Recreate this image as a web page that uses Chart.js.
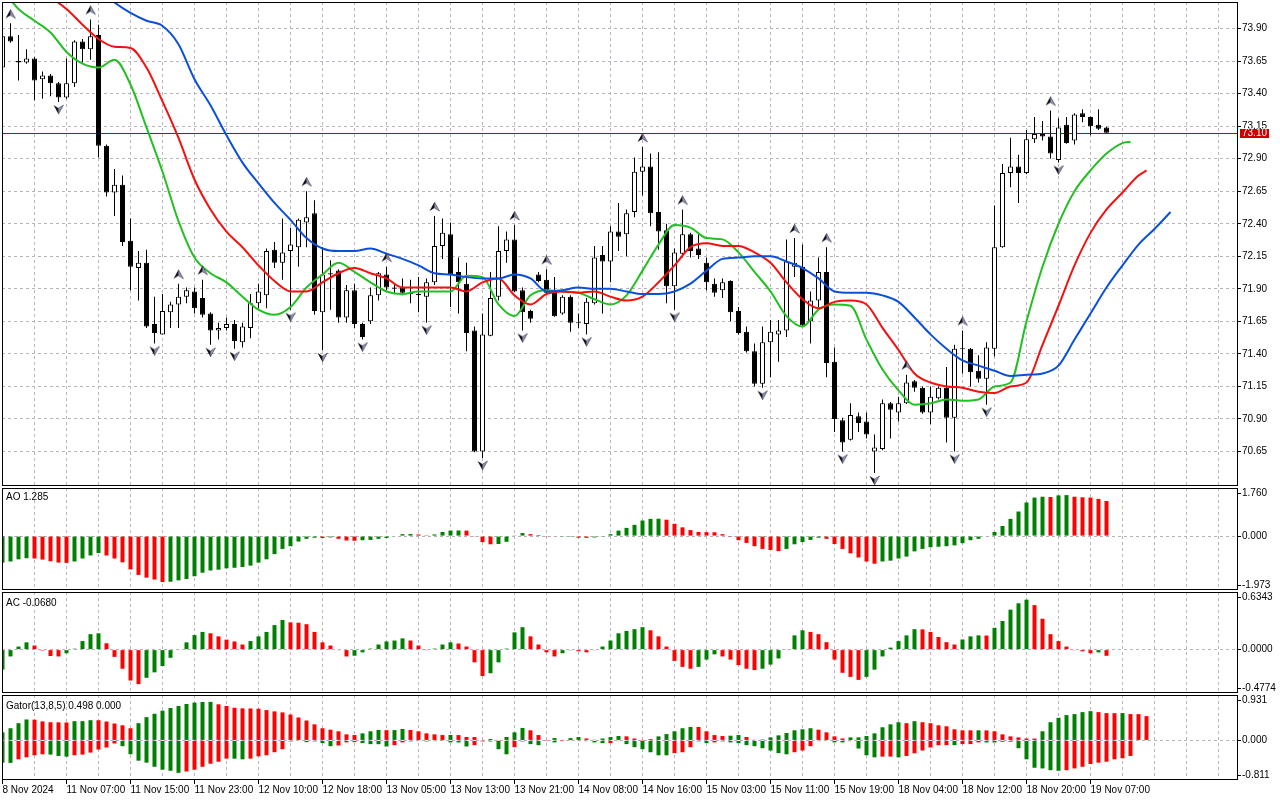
<!DOCTYPE html>
<html>
<head>
<meta charset="utf-8">
<title>Alligator / AO / AC / Gator</title>
<script src="https://cdn.jsdelivr.net/npm/chart.js@4.4.1/dist/chart.umd.min.js"></script>
<style>
  html, body { margin: 0; padding: 0; background: #fff; }
  #wrap { position: relative; width: 1280px; height: 800px; overflow: hidden; background: #fff; }
  #wrap canvas { position: absolute; left: 0; }
  .pane-title { position: absolute; left: 6px; font: 10px 'Liberation Sans', Arial, sans-serif; line-height: 12px; color: #000; white-space: nowrap; }
</style>
</head>
<body>
<div id="wrap">
  <canvas id="mainPane" width="1280" height="488" style="top:0"></canvas>
  <canvas id="aoPane" width="1280" height="102" style="top:488px"></canvas>
  <canvas id="acPane" width="1280" height="102" style="top:591px"></canvas>
  <canvas id="gatorPane" width="1280" height="106" style="top:694px"></canvas>
</div>
<script>
// H1 bars, 8 Nov 2024 .. 19 Nov 2024 07:00
const timeLabels = ['8 Nov 2024', '11 Nov 07:00', '11 Nov 15:00', '11 Nov 23:00', '12 Nov 10:00', '12 Nov 18:00',
  '13 Nov 05:00', '13 Nov 13:00', '13 Nov 21:00', '14 Nov 08:00', '14 Nov 16:00', '15 Nov 03:00',
  '15 Nov 11:00', '15 Nov 19:00', '18 Nov 04:00', '18 Nov 12:00', '18 Nov 20:00', '19 Nov 07:00'];

const priceTicks = [73.90, 73.65, 73.40, 73.15, 72.90, 72.65, 72.40, 72.15, 71.90, 71.65, 71.40, 71.15, 70.90, 70.65];

const opens = [
  73.60, 73.84, 73.64, 73.64, 73.67, 73.51, 73.54, 73.48, 73.37, 73.48,
  73.80, 73.74, 73.85, 73.00, 72.64, 72.70, 72.27, 72.06, 72.10, 71.63,
  71.55, 71.72, 71.78, 71.84, 71.88, 71.83, 71.71, 71.58, 71.60, 71.63,
  71.49, 71.60, 71.79, 71.85, 72.20, 72.10, 72.19, 72.22, 72.41, 72.48,
  71.72, 72.01, 72.04, 71.68, 71.89, 71.63, 71.65, 71.85, 72.01, 71.91,
  71.91, 71.865, 71.86, 71.84, 71.95, 72.23, 72.32, 72.03, 71.94, 71.58,
  70.65, 71.54, 71.84, 72.19, 72.28, 71.89, 71.73, 72.01, 71.97, 71.88,
  71.71, 71.84, 71.64, 71.63, 71.79, 72.16, 72.11, 72.34, 72.32, 72.49,
  72.80, 72.84, 72.49, 72.35, 71.92, 72.17, 72.32, 72.21, 72.10, 71.94,
  71.89, 71.96, 71.73, 71.57, 71.42, 71.17, 71.49, 71.55, 71.58, 72.07,
  72.07, 71.65, 71.81, 72.03, 71.34, 70.89, 70.74, 70.92, 70.88, 70.65,
  70.67, 71.02, 70.95, 71.02, 71.19, 71.14, 70.95, 71.06, 71.14, 70.91,
  71.44, 71.44, 71.27, 71.21, 71.44, 72.22, 72.79, 72.84, 72.79, 73.05,
  73.09, 73.07, 72.89, 73.16, 73.04, 73.25, 73.22, 73.16, 73.14];

const highs = [
  73.85, 73.94, 73.85, 73.74, 73.68, 73.57, 73.55, 73.49, 73.67, 73.81,
  73.82, 73.97, 73.93, 73.01, 72.82, 72.77, 72.44, 72.19, 72.20, 71.84,
  71.86, 71.80, 71.94, 71.91, 71.91, 71.97, 71.72, 71.64, 71.68, 71.66,
  71.64, 71.86, 71.94, 72.21, 72.26, 72.44, 72.37, 72.44, 72.65, 72.58,
  72.22, 72.12, 72.05, 71.93, 71.94, 71.64, 71.91, 72.03, 72.07, 71.94,
  71.98, 71.97, 71.99, 71.98, 72.46, 72.44, 72.41, 72.14, 72.10, 71.61,
  71.71, 72.03, 72.38, 72.34, 72.39, 71.91, 71.74, 72.03, 72.05, 71.99,
  71.85, 71.85, 71.71, 71.83, 72.23, 72.23, 72.38, 72.56, 72.51, 72.91,
  72.99, 72.94, 72.95, 72.40, 72.21, 72.51, 72.33, 72.33, 72.14, 71.98,
  71.98, 71.965, 71.76, 71.61, 71.48, 71.61, 71.66, 71.66, 72.28, 72.29,
  72.24, 71.88, 72.14, 72.22, 71.45, 70.91, 71.02, 70.95, 70.95, 70.78,
  71.05, 71.03, 71.07, 71.24, 71.20, 71.15, 71.15, 71.15, 71.30, 71.47,
  71.58, 71.445, 71.39, 71.49, 72.54, 72.86, 73.06, 72.93, 73.12, 73.22,
  73.19, 73.27, 73.21, 73.22, 73.25, 73.28, 73.225, 73.28, 73.145];

const lows = [
  73.59, 73.79, 73.50, 73.63, 73.35, 73.36, 73.38, 73.335, 73.36, 73.45,
  73.64, 73.66, 72.91, 72.61, 72.46, 72.23, 71.89, 71.81, 71.60, 71.48,
  71.55, 71.60, 71.60, 71.79, 71.71, 71.68, 71.47, 71.51, 71.58, 71.44,
  71.45, 71.52, 71.75, 71.75, 72.06, 71.97, 71.74, 72.07, 72.22, 71.70,
  71.43, 71.74, 71.64, 71.64, 71.60, 71.51, 71.63, 71.81, 71.89, 71.87,
  71.85, 71.79, 71.72, 71.64, 71.93, 72.13, 71.76, 71.71, 71.42, 70.645,
  70.60, 71.535, 71.81, 72.10, 71.875, 71.58, 71.64, 71.95, 71.85, 71.685,
  71.70, 71.57, 71.60, 71.55, 71.78, 71.71, 71.95, 72.19, 72.15, 72.45,
  72.62, 72.38, 72.20, 71.79, 71.74, 72.14, 72.14, 72.13, 71.89, 71.84,
  71.83, 71.65, 71.55, 71.41, 71.15, 71.14, 71.22, 71.34, 71.53, 71.99,
  71.61, 71.48, 71.76, 71.22, 70.80, 70.65, 70.735, 70.80, 70.75, 70.485,
  70.66, 70.75, 70.88, 71.015, 71.11, 70.94, 70.86, 71.05, 70.72, 70.65,
  71.25, 71.15, 71.18, 71.01, 71.38, 72.215, 72.68, 72.56, 72.78, 73.02,
  73.04, 72.90, 72.87, 73.015, 73.01, 73.18, 73.08, 73.12, 73.10];

const closes = [
  73.84, 73.80, 73.65, 73.67, 73.50, 73.54, 73.48, 73.37, 73.48, 73.80,
  73.74, 73.84, 73.00, 72.64, 72.70, 72.26, 72.07, 72.10, 71.61, 71.56,
  71.73, 71.78, 71.84, 71.89, 71.75, 71.70, 71.58, 71.60, 71.63, 71.50,
  71.61, 71.79, 71.88, 72.19, 72.10, 72.18, 72.24, 72.43, 72.45, 71.73,
  72.01, 72.02, 71.68, 71.89, 71.63, 71.53, 71.85, 72.02, 71.91, 71.90,
  71.87, 71.86, 71.85, 71.95, 72.23, 72.33, 72.01, 71.95, 71.56, 70.65,
  71.55, 71.83, 72.19, 72.28, 71.88, 71.72, 71.67, 71.96, 71.87, 71.69,
  71.84, 71.64, 71.635, 71.80, 72.14, 72.11, 72.34, 72.30, 72.48, 72.80,
  72.84, 72.48, 72.34, 71.92, 72.18, 72.32, 72.19, 72.16, 71.95, 71.87,
  71.95, 71.72, 71.56, 71.42, 71.17, 71.49, 71.57, 71.58, 72.11, 72.10,
  71.62, 71.81, 72.03, 71.33, 70.90, 70.72, 70.93, 70.87, 70.78, 70.68,
  71.02, 70.97, 71.02, 71.18, 71.14, 70.95, 71.07, 71.14, 70.91, 71.44,
  71.435, 71.26, 71.21, 71.45, 72.22, 72.79, 72.84, 72.79, 73.05, 73.09,
  73.07, 72.94, 73.14, 73.02, 73.24, 73.22, 73.15, 73.13, 73.10];

// Alligator lines, [bar, price] (jaw shifted 8 bars, teeth 5, lips 3)
const jawLine = [[0, 74.66], [4, 74.50], [8, 74.35], [12, 74.20], [14, 74.10], [16, 74.02], [18, 73.96], [20, 73.92],
  [22, 73.78], [24, 73.51], [26, 73.31], [28, 73.08], [30, 72.87], [32, 72.71], [34, 72.56], [36, 72.43], [38, 72.29],
  [40, 72.21], [42, 72.19], [44, 72.19], [46, 72.21], [48, 72.17], [50, 72.13], [52, 72.08], [54, 72.02], [56, 72.01],
  [58, 71.99], [60, 71.98], [62, 71.98], [64, 72.01], [66, 71.98], [68, 71.88], [70, 71.89], [72, 71.91], [74, 71.90],
  [76, 71.90], [78, 71.88], [80, 71.86], [82, 71.86], [84, 71.88], [86, 71.94], [88, 72.04], [90, 72.13], [92, 72.14],
  [94, 72.15], [96, 72.15], [98, 72.11], [100, 72.06], [102, 71.98], [104, 71.88], [106, 71.87], [108, 71.87], [110, 71.85],
  [112, 71.80], [114, 71.68], [116, 71.55], [118, 71.44], [120, 71.35], [122, 71.31], [124, 71.27], [126, 71.23],
  [128, 71.24], [130, 71.25], [132, 71.31], [134, 71.51], [136, 71.71], [138, 71.91], [140, 72.08], [142, 72.24],
  [144, 72.36], [146, 72.49]];

const teethLine = [[0, 74.43], [2, 74.31], [4, 74.21], [6, 74.14], [8, 74.05], [10, 73.93], [12, 73.82], [14, 73.76],
  [16, 73.75], [18, 73.60], [20, 73.34], [22, 73.06], [24, 72.74], [26, 72.51], [28, 72.34], [30, 72.22], [32, 72.08],
  [34, 71.96], [36, 71.88], [38, 71.88], [40, 71.95], [42, 72.02], [44, 72.06], [46, 72.02], [48, 71.98], [50, 71.91],
  [52, 71.91], [54, 71.91], [56, 71.91], [58, 71.88], [60, 71.95], [62, 71.98], [64, 71.85], [66, 71.78], [68, 71.86],
  [70, 71.88], [72, 71.87], [74, 71.88], [76, 71.84], [78, 71.81], [80, 71.84], [82, 71.95], [84, 72.08], [86, 72.22],
  [88, 72.25], [90, 72.23], [92, 72.23], [94, 72.18], [96, 72.10], [98, 71.95], [100, 71.82], [102, 71.75], [104, 71.80],
  [106, 71.81], [108, 71.78], [110, 71.60], [112, 71.43], [114, 71.25], [116, 71.18], [118, 71.15], [120, 71.14],
  [122, 71.11], [124, 71.10], [126, 71.15], [128, 71.18], [130, 71.47], [132, 71.77], [134, 72.08], [136, 72.33],
  [138, 72.51], [140, 72.64], [142, 72.77], [143, 72.81]];

const lipsLine = [[0, 74.20], [2, 74.05], [4, 73.96], [6, 73.87], [8, 73.72], [10, 73.63], [12, 73.60], [14, 73.66],
  [16, 73.47], [18, 73.14], [20, 72.80], [22, 72.42], [24, 72.14], [26, 72.02], [28, 71.95], [30, 71.84], [32, 71.74],
  [34, 71.70], [36, 71.76], [38, 71.91], [40, 72.01], [42, 72.10], [44, 72.03], [46, 71.95], [48, 71.88], [50, 71.86],
  [52, 71.88], [54, 71.88], [56, 71.88], [58, 72.00], [60, 71.99], [62, 71.78], [64, 71.69], [66, 71.85], [68, 71.89],
  [70, 71.88], [72, 71.87], [74, 71.82], [76, 71.78], [78, 71.85], [80, 72.04], [82, 72.24], [84, 72.39], [86, 72.37],
  [88, 72.29], [90, 72.28], [92, 72.18], [94, 72.03], [96, 71.88], [98, 71.69], [100, 71.61], [102, 71.74], [104, 71.78],
  [106, 71.77], [108, 71.51], [110, 71.28], [112, 71.12], [114, 71.01], [116, 71.02], [118, 71.05], [120, 71.04],
  [122, 71.05], [124, 71.15], [126, 71.18], [128, 71.65], [130, 72.07], [132, 72.40], [134, 72.65], [136, 72.81],
  [138, 72.94], [140, 73.02], [141, 73.03]];

const upFractals = [1, 11, 22, 25, 38, 48, 54, 64, 68, 80, 85, 99, 103, 113, 120, 131];
const downFractals = [7, 19, 26, 29, 36, 40, 45, 53, 60, 65, 73, 84, 95, 105, 109, 119, 123, 132];

const aoValues = [
  -0.97, -0.93, -0.85, -0.81, -0.82, -0.86, -0.92, -0.97, -0.98, -0.93,
  -0.82, -0.71, -0.62, -0.71, -0.82, -0.96, -1.22, -1.42, -1.52, -1.59,
  -1.68, -1.67, -1.62, -1.57, -1.47, -1.34, -1.26, -1.23, -1.18, -1.16,
  -1.13, -1.08, -0.97, -0.85, -0.66, -0.47, -0.37, -0.20, -0.10, -0.06,
  -0.07, -0.05, -0.10, -0.16, -0.17, -0.15, -0.14, -0.10, -0.07, -0.02,
  0.07, 0.075, 0.06, 0.03, 0.06, 0.15, 0.20, 0.205, 0.20, -0.01,
  -0.22, -0.30, -0.29, -0.21, 0.01, 0.11, 0.07, 0.04, -0.01, -0.02,
  -0.01, -0.005, -0.06, -0.065, -0.05, -0.01, 0.07, 0.20, 0.30, 0.41,
  0.57, 0.63, 0.635, 0.60, 0.45, 0.32, 0.22, 0.15, 0.145, 0.14,
  0.07, -0.005, -0.15, -0.25, -0.37, -0.47, -0.51, -0.55, -0.47, -0.30,
  -0.22, -0.14, -0.06, -0.10, -0.29, -0.47, -0.63, -0.78, -0.93, -1.01,
  -0.93, -0.90, -0.82, -0.75, -0.56, -0.47, -0.41, -0.39, -0.37, -0.34,
  -0.26, -0.15, -0.10, -0.02, 0.15, 0.37, 0.63, 0.90, 1.23, 1.41,
  1.44, 1.43, 1.49, 1.50, 1.44, 1.42, 1.41, 1.36, 1.285];

const acValues = [
  -0.22, -0.075, 0.034, 0.08, 0.045, -0.01, -0.07, -0.075, -0.04, 0.01,
  0.094, 0.17, 0.18, 0.07, -0.08, -0.21, -0.34, -0.38, -0.31, -0.25,
  -0.18, -0.09, -0.005, 0.08, 0.16, 0.195, 0.18, 0.146, 0.11, 0.09,
  0.056, 0.094, 0.146, 0.195, 0.27, 0.326, 0.30, 0.296, 0.28, 0.195,
  0.08, 0.045, -0.004, -0.075, -0.067, -0.03, 0.011, 0.056, 0.09, 0.10,
  0.124, 0.10, 0.045, -0.002, 0.011, 0.056, 0.08, 0.067, 0.034, -0.14,
  -0.29, -0.26, -0.14, 0.011, 0.19, 0.247, 0.146, 0.056, -0.03, -0.075,
  -0.04, -0.008, -0.019, -0.03, -0.007, 0.034, 0.10, 0.18, 0.206, 0.225,
  0.247, 0.213, 0.146, 0.034, -0.124, -0.19, -0.21, -0.19, -0.11, -0.052,
  -0.075, -0.11, -0.17, -0.21, -0.225, -0.21, -0.165, -0.097, 0.007, 0.157,
  0.213, 0.195, 0.17, 0.082, -0.11, -0.255, -0.30, -0.333, -0.30, -0.22,
  -0.075, 0.022, 0.094, 0.157, 0.225, 0.223, 0.195, 0.139, 0.082, 0.056,
  0.112, 0.146, 0.157, 0.155, 0.24, 0.315, 0.44, 0.51, 0.55, 0.49,
  0.34, 0.17, 0.094, 0.034, -0.007, -0.019, -0.04, -0.03, -0.068];

const gatorUpper = [
  0.166, 0.25, 0.353, 0.43, 0.425, 0.39, 0.373, 0.37, 0.368, 0.394,
  0.395, 0.415, 0.414, 0.387, 0.346, 0.31, 0.25, 0.353, 0.477, 0.546,
  0.61, 0.664, 0.705, 0.747, 0.775, 0.788, 0.79, 0.74, 0.705, 0.67,
  0.657, 0.655, 0.65, 0.622, 0.595, 0.574, 0.53, 0.47, 0.408, 0.33,
  0.25, 0.22, 0.187, 0.124, 0.11, 0.145, 0.187, 0.214, 0.21, 0.212,
  0.235, 0.214, 0.187, 0.145, 0.124, 0.11, 0.112, 0.11, 0.07, 0.069,
  0.005, 0.03, 0.005, 0.07, 0.166, 0.256, 0.207, 0.11, 0.003, 0.048,
  0.002, 0.048, 0.069, 0.04, 0.014, 0.04, 0.069, 0.09, 0.083, 0.04,
  0.002, 0.028, 0.083, 0.13, 0.187, 0.25, 0.277, 0.276, 0.187, 0.11,
  0.09, 0.097, 0.11, 0.07, 0.014, 0.02, 0.062, 0.104, 0.152, 0.207,
  0.228, 0.25, 0.22, 0.166, 0.083, 0.04, 0.062, 0.063, 0.09, 0.145,
  0.27, 0.33, 0.373, 0.353, 0.394, 0.373, 0.353, 0.31, 0.29, 0.228,
  0.207, 0.206, 0.207, 0.205, 0.187, 0.124, 0.083, 0.062, 0.04, 0.039,
  0.187, 0.373, 0.463, 0.519, 0.54, 0.58, 0.60, 0.58, 0.56, 0.558,
  0.56, 0.54, 0.539, 0.498];

const gatorLower = [
  -0.456, -0.46, -0.387, -0.346, -0.304, -0.284, -0.29, -0.318, -0.332, -0.304,
  -0.29, -0.249, -0.187, -0.145, -0.062, -0.118, -0.284, -0.415, -0.456, -0.54,
  -0.60, -0.622, -0.664, -0.636, -0.60, -0.54, -0.477, -0.436, -0.373, -0.375,
  -0.387, -0.373, -0.325, -0.304, -0.242, -0.18, -0.02, -0.01, -0.035, -0.02,
  -0.055, -0.118, -0.104, -0.04, -0.035, -0.055, -0.076, -0.077, -0.124, -0.097,
  -0.04, -0.02, -0.014, -0.02, -0.014, -0.007, -0.04, -0.041, -0.124, -0.097,
  -0.02, -0.021, -0.18, -0.284, -0.138, -0.02, -0.076, -0.097, -0.014, -0.04,
  -0.014, -0.007, -0.014, -0.015, -0.04, -0.055, -0.054, -0.014, -0.076, -0.138,
  -0.18, -0.242, -0.304, -0.305, -0.26, -0.242, -0.138, -0.02, -0.055, -0.04,
  -0.02, -0.04, -0.055, -0.097, -0.118, -0.16, -0.207, -0.26, -0.284, -0.242,
  -0.207, -0.118, -0.014, -0.013, -0.04, -0.041, -0.014, -0.166, -0.304, -0.346,
  -0.332, -0.331, -0.346, -0.318, -0.263, -0.207, -0.145, -0.098, -0.097, -0.098,
  -0.076, -0.075, -0.04, -0.041, -0.042, -0.028, -0.027, -0.16, -0.387, -0.56,
  -0.574, -0.61, -0.622, -0.61, -0.574, -0.54, -0.484, -0.456, -0.436, -0.387,
  -0.366, -0.318];

// pane scale extremes and their labels, as printed on the right axis
const aoRange = [-1.973, 1.760];
const acRange = [-0.4774, 0.6343];
const gatorRange = [-0.811, 0.931];
const aoAxisLabels = ['1.760', '0.000', '-1.973'];
const acAxisLabels = ['0.6343', '0.0000', '-0.4774'];
const gatorAxisLabels = ['0.931', '0.000', '-0.811'];
const paneTitles = ['AO 1.285', 'AC -0.0680', 'Gator(13,8,5) 0.498 0.000'];

document.addEventListener('DOMContentLoaded', () => {
  const GRID = '#b9b3bf';
  const GREEN = '#008000';
  const RED = '#ff0000';
  const AXIS_W = 42;
  const X_MIN = -0.0625;              // bar 0 sits on pixel 2.5, 8 px per bar
  const X_MAX = X_MIN + 1236 / 8;

  Chart.defaults.font.family = "'Liberation Sans', Arial, sans-serif";
  Chart.defaults.font.size = 10;
  Chart.defaults.color = '#000';

  const wrap = document.getElementById('wrap');
  [491, 597, 700].forEach((top, i) => {
    const d = document.createElement('div');
    d.className = 'pane-title';
    d.style.top = top + 'px';
    d.textContent = paneTitles[i];
    wrap.appendChild(d);
  });

  // keep every pane's plot box exactly where the layout padding puts it
  const noScalePadding = s => { s.paddingTop = 0; s.paddingBottom = 0; s.paddingLeft = 0; s.paddingRight = 0; };
  const timeLabelAt = v => (v % 8 === 0 && timeLabels[v / 8]) ? timeLabels[v / 8] : '';

  function timeAxis(withLabels) {
    return {
      type: 'linear',
      min: X_MIN,
      max: X_MAX,
      offset: false,
      afterBuildTicks: s => {
        s.ticks = [];
        for (let b = 0; b < X_MAX; b += 4) s.ticks.push({ value: b });
      },
      afterFit: s => { s.height = withLabels ? 20 : 0; noScalePadding(s); },
      grid: {
        offset: false,
        color: GRID,
        drawTicks: withLabels,
        tickLength: 4,
        tickColor: c => (c.tick && timeLabelAt(c.tick.value)) ? '#000' : 'rgba(0,0,0,0)',
        tickBorderDash: []
      },
      border: { display: false, dash: [3, 3] },
      ticks: {
        display: withLabels,
        autoSkip: false,
        maxRotation: 0,
        align: 'start',
        padding: 0,
        callback: v => timeLabelAt(v)
      }
    };
  }

  // indicator panes: labels sit a few px inside the top and bottom edge
  function indicatorAxis(range, labels, paneHeight) {
    const [lo, hi] = range;
    const inset = (hi - lo) * 5 / paneHeight;
    return {
      position: 'right',
      min: lo,
      max: hi,
      beginAtZero: false,
      afterBuildTicks: s => { s.ticks = [{ value: hi - inset }, { value: 0 }, { value: lo + inset }]; },
      afterFit: s => { s.width = AXIS_W; noScalePadding(s); },
      grid: {
        color: c => (c.tick && c.tick.value === 0) ? GRID : 'rgba(0,0,0,0)',
        tickLength: 3,
        tickColor: '#000',
        tickBorderDash: []
      },
      border: { display: false, dash: [3, 3] },
      ticks: { autoSkip: false, padding: 1, callback: (v, i) => labels[i] }
    };
  }

  const priceAxis = {
    position: 'right',
    min: 70.385,
    max: 74.104,
    beginAtZero: false,
    afterBuildTicks: s => { s.ticks = priceTicks.map(v => ({ value: v })); },
    afterFit: s => { s.width = AXIS_W; noScalePadding(s); },
    grid: { color: GRID, tickLength: 3, tickColor: '#000', tickBorderDash: [] },
    border: { display: false, dash: [3, 3] },
    ticks: { autoSkip: false, padding: 1, callback: v => v.toFixed(2) }
  };

  const paneFrame = {
    id: 'paneFrame',
    afterDraw(chart) {
      const { ctx, chartArea: a } = chart;
      ctx.save();
      ctx.strokeStyle = '#000';
      ctx.lineWidth = 1;
      ctx.strokeRect(a.left + 0.5, a.top + 0.5, a.right - a.left - 1, a.bottom - a.top - 1);
      ctx.restore();
    }
  };

  // bid line and price tag for the last close
  const bidLine = {
    id: 'bidLine',
    beforeDatasetsDraw(chart) {
      const { ctx, chartArea: a } = chart;
      const y = Math.round(chart.scales.y.getPixelForValue(closes[closes.length - 1])) + 0.5;
      ctx.save();
      ctx.strokeStyle = '#c00000';
      ctx.lineWidth = 1;
      ctx.beginPath();
      ctx.moveTo(a.left, y);
      ctx.lineTo(a.right, y);
      ctx.stroke();
      ctx.restore();
    },
    afterDraw(chart) {
      const { ctx, chartArea: a } = chart;
      const last = closes[closes.length - 1];
      const y = Math.round(chart.scales.y.getPixelForValue(last));
      ctx.save();
      ctx.fillStyle = '#cc0000';
      ctx.fillRect(a.right + 2, y - 4, 29, 9);
      ctx.fillStyle = '#fff';
      ctx.font = Chart.defaults.font.size + 'px ' + Chart.defaults.font.family;
      ctx.textBaseline = 'middle';
      ctx.fillText(last.toFixed(2), a.right + 4, y + 0.5);
      ctx.restore();
    }
  };

  // two-tone arrowhead like the terminal's fractal marks
  function fractalArrow(up) {
    const c = document.createElement('canvas');
    c.width = 13;
    c.height = 36;
    const g = c.getContext('2d');
    g.translate(6.5, up ? 9 : 25);
    if (!up) g.scale(1, -1);
    g.beginPath();
    g.moveTo(0, -5);
    g.lineTo(0, 1);
    g.lineTo(-5, 4);
    g.closePath();
    g.fillStyle = '#111';
    g.fill();
    g.beginPath();
    g.moveTo(0, -5);
    g.lineTo(5, 4);
    g.lineTo(0, 1);
    g.closePath();
    g.fillStyle = '#8a90b8';
    g.fill();
    g.strokeStyle = 'rgba(40,40,60,0.6)';
    g.lineWidth = 0.8;
    g.stroke();
    return c;
  }

  function trendColors(values, useAbs) {
    let up = true;
    return values.map((v, i) => {
      if (i > 0) {
        const a = useAbs ? Math.abs(v) : v;
        const b = useAbs ? Math.abs(values[i - 1]) : values[i - 1];
        if (a > b) up = true; else if (a < b) up = false;
      }
      return up ? GREEN : RED;
    });
  }

  function histogram(values, useAbs) {
    return {
      type: 'bar',
      grouped: false,
      barThickness: 4,
      inflateAmount: 0,
      borderWidth: 0,
      backgroundColor: trendColors(values, useAbs),
      data: values.map((v, i) => ({ x: i, y: v }))
    };
  }

  function alligator(points, color) {
    return {
      type: 'line',
      order: 2,
      data: points.map(([x, y]) => ({ x, y })),
      borderColor: color,
      borderWidth: 2,
      pointRadius: 0,
      fill: false,
      cubicInterpolationMode: 'monotone'
    };
  }

  function makePane(id, datasets, yAxis, pad, withLabels, extra) {
    return new Chart(document.getElementById(id), {
      type: 'bar',
      data: { datasets },
      options: {
        responsive: false,
        animation: false,
        events: [],
        layout: { autoPadding: false, padding: { left: 2, right: 0, top: pad[0], bottom: pad[1] } },
        plugins: { legend: { display: false }, tooltip: { enabled: false }, title: { display: false } },
        scales: { x: timeAxis(withLabels), y: yAxis }
      },
      plugins: [paneFrame].concat(extra || [])
    });
  }

  const bars = opens.map((_, i) => i);

  makePane('mainPane', [
    {
      type: 'bar', order: 4, grouped: false, barThickness: 1, inflateAmount: 0,
      backgroundColor: '#000', borderWidth: 0,
      data: bars.map(i => ({ x: i, y: [lows[i], highs[i]] }))
    },
    {
      type: 'bar', order: 3, grouped: false, barThickness: 5, inflateAmount: 0, minBarLength: 1,
      borderWidth: 1, borderColor: '#000', borderSkipped: false,
      backgroundColor: bars.map(i => (closes[i] - opens[i] > 0.012) ? '#fff' : '#000'),
      data: bars.map(i => ({ x: i, y: [opens[i], closes[i]] }))
    },
    alligator(jawLine, '#0a50d8'),
    alligator(teethLine, '#f51010'),
    alligator(lipsLine, '#22c022'),
    {
      type: 'line', order: 1, showLine: false, pointRadius: 4, pointStyle: fractalArrow(true),
      data: upFractals.map(i => ({ x: i, y: highs[i] }))
    },
    {
      type: 'line', order: 1, showLine: false, pointRadius: 4, pointStyle: fractalArrow(false),
      data: downFractals.map(i => ({ x: i, y: lows[i] }))
    }
  ], priceAxis, [2, 2], false, [bidLine]);

  makePane('aoPane', [histogram(aoValues, false)], indicatorAxis(aoRange, aoAxisLabels, 102), [0, 0], false);
  makePane('acPane', [histogram(acValues, false)], indicatorAxis(acRange, acAxisLabels, 101), [1, 0], false);
  makePane('gatorPane', [histogram(gatorUpper, true), histogram(gatorLower, true)],
    indicatorAxis(gatorRange, gatorAxisLabels, 85), [1, 0], true);
});
</script>
</body>
</html>
